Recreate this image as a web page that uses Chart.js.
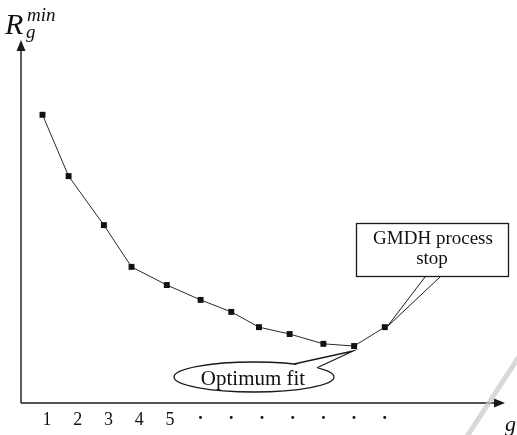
<!DOCTYPE html>
<html>
<head>
<meta charset="utf-8">
<script src="https://cdn.jsdelivr.net/npm/chart.js@4.4.0/dist/chart.umd.min.js"></script>
<style>
  html, body { margin: 0; padding: 0; background: #fff; }
  #wrap { width: 517px; height: 435px; }
</style>
</head>
<body>
<div id="wrap"><canvas id="gmdhChart" width="517" height="435"></canvas></div>
<script>
// layer number g (position along the axis) and the minimum criterion value per layer
const layers = [0.85, 1.7, 2.85, 3.75, 4.9, 6, 7, 7.9, 8.9, 10, 11, 12];
const minCriterion = [0.794, 0.625, 0.49, 0.375, 0.325, 0.284, 0.251, 0.209, 0.19, 0.163, 0.157, 0.209];
const tickValues = [1, 2, 3, 4, 5, 6, 7, 8, 9, 10, 11, 12];
const tickLabels = ["1", "2", "3", "4", "5", "·", "·", "·", "·", "·", "·", "·"];
const optimumIndex = 10;
const stopIndex = 11;

const serif = "'Liberation Serif', 'DejaVu Serif', serif";

const decorations = {
  id: "decorations",
  beforeDatasetsDraw(chart) {
    const { ctx, chartArea } = chart;
    ctx.save();
    ctx.strokeStyle = "#1a1a1a";
    ctx.fillStyle = "#1a1a1a";
    ctx.lineWidth = 1.4;
    // y axis with arrow
    ctx.beginPath();
    ctx.moveTo(21, chartArea.bottom);
    ctx.lineTo(21, 48);
    ctx.stroke();
    ctx.beginPath();
    ctx.moveTo(21, 40);
    ctx.lineTo(16.5, 51);
    ctx.lineTo(25.5, 51);
    ctx.closePath();
    ctx.fill();
    // x axis with arrow
    ctx.beginPath();
    ctx.moveTo(21, chartArea.bottom);
    ctx.lineTo(497, chartArea.bottom);
    ctx.stroke();
    ctx.beginPath();
    ctx.moveTo(505, chartArea.bottom);
    ctx.lineTo(494, chartArea.bottom - 4.5);
    ctx.lineTo(494, chartArea.bottom + 4.5);
    ctx.closePath();
    ctx.fill();

    // faint scan stripe
    ctx.strokeStyle = "rgba(200,200,200,0.7)";
    ctx.lineWidth = 5;
    ctx.beginPath();
    ctx.moveTo(520, 355);
    ctx.lineTo(466, 438);
    ctx.stroke();

    // axis titles
    ctx.fillStyle = "#111";
    ctx.textBaseline = "alphabetic";
    ctx.textAlign = "left";
    ctx.font = "italic 30px " + serif;
    ctx.fillText("R", 5, 34);
    ctx.font = "italic 19px " + serif;
    ctx.fillText("min", 27, 21);
    ctx.fillText("g", 26, 38);
    ctx.font = "italic 22px " + serif;
    ctx.fillText("g", 505, 431);
    ctx.restore();
  },
  afterDatasetsDraw(chart) {
    const { ctx } = chart;
    const xs = chart.scales.x, ys = chart.scales.y;
    const opt = { x: xs.getPixelForValue(layers[optimumIndex]), y: ys.getPixelForValue(minCriterion[optimumIndex]) };
    const stop = { x: xs.getPixelForValue(layers[stopIndex]), y: ys.getPixelForValue(minCriterion[stopIndex]) };
    ctx.save();
    ctx.strokeStyle = "#1a1a1a";
    ctx.lineWidth = 1.3;

    // "Optimum fit" speech bubble
    const cx = 254, cy = 377, rx = 80, ry = 15;
    ctx.fillStyle = "#fff";
    ctx.beginPath();
    ctx.ellipse(cx, cy, rx, ry, 0, 0, Math.PI * 2);
    ctx.fill();
    ctx.stroke();
    const ey = (x) => cy - ry * Math.sqrt(1 - Math.pow((x - cx) / rx, 2));
    const a = { x: 294, y: ey(294) }, b = { x: 317, y: ey(317) };
    const tip = { x: opt.x - 1, y: opt.y + 5 };
    ctx.beginPath();
    ctx.moveTo(a.x, a.y + 1);
    ctx.lineTo(tip.x, tip.y);
    ctx.lineTo(b.x, b.y + 1);
    ctx.lineTo(b.x - 4, b.y + 5);
    ctx.lineTo(a.x + 2, a.y + 5);
    ctx.closePath();
    ctx.fill();
    ctx.beginPath();
    ctx.moveTo(a.x, a.y);
    ctx.lineTo(tip.x, tip.y);
    ctx.lineTo(b.x, b.y);
    ctx.stroke();
    ctx.fillStyle = "#111";
    ctx.font = "21px " + serif;
    ctx.textAlign = "center";
    ctx.textBaseline = "alphabetic";
    ctx.fillText("Optimum fit", cx - 1, 385);

    // "GMDH process stop" box
    ctx.fillStyle = "#fff";
    ctx.fillRect(356, 223, 153, 54);
    ctx.strokeRect(356.5, 223.5, 152, 53);
    ctx.lineWidth = 1;
    ctx.beginPath();
    ctx.moveTo(425, 277);
    ctx.lineTo(stop.x + 2, stop.y);
    ctx.lineTo(440, 277);
    ctx.stroke();
    ctx.fillStyle = "#111";
    ctx.font = "19px " + serif;
    ctx.fillText("GMDH process", 433, 244);
    ctx.fillText("stop", 432, 264);
    ctx.restore();
  }
};

new Chart(document.getElementById("gmdhChart").getContext("2d"), {
  type: "line",
  data: {
    datasets: [{
      data: layers.map((g, i) => ({ x: g, y: minCriterion[i] })),
      borderColor: "#2a2a2a",
      borderWidth: 1,
      pointStyle: "rect",
      pointRadius: 4.2,
      pointBackgroundColor: "#111",
      pointBorderWidth: 0,
      tension: 0,
      fill: false
    }]
  },
  options: {
    responsive: false,
    animation: false,
    devicePixelRatio: 1,
    layout: { padding: { left: 21, right: 14, top: 40, bottom: 0 } },
    plugins: { legend: { display: false }, tooltip: { enabled: false } },
    scales: {
      x: {
        type: "linear",
        min: 0.15,
        max: 15.85,
        grid: { display: false, drawTicks: false },
        border: { display: false },
        afterBuildTicks: (scale) => { scale.ticks = tickValues.map((v) => ({ value: v })); },
        afterFit: (scale) => { scale.height = 32; },
        ticks: {
          autoSkip: false,
          maxRotation: 0,
          padding: 6,
          color: "#111",
          font: (c) => ({ family: serif, size: 18, weight: c.index >= 5 ? "bold" : "normal" }),
          callback: (value, index) => tickLabels[index]
        }
      },
      y: { display: false, min: 0, max: 1 }
    }
  },
  plugins: [decorations]
});
</script>
</body>
</html>
